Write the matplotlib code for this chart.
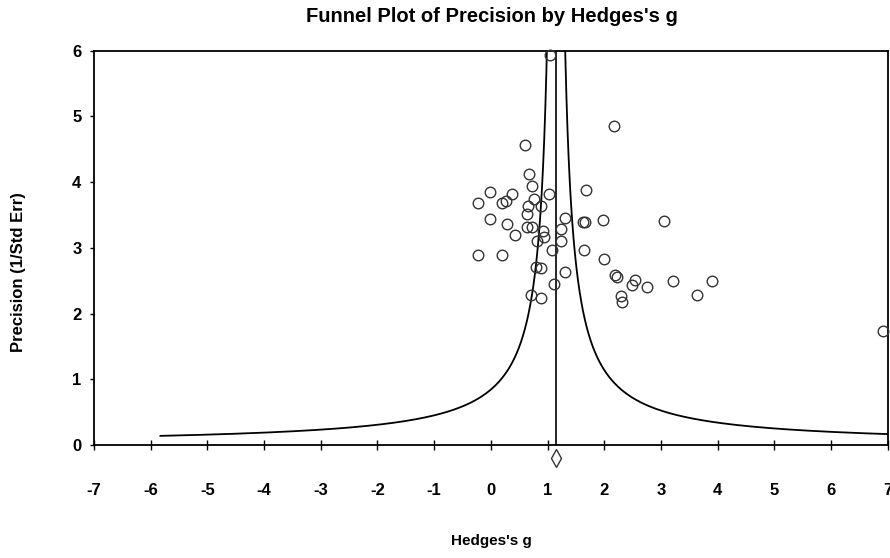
import numpy as np
import matplotlib
matplotlib.use("Agg")
import matplotlib.pyplot as plt

# Study effect sizes (Hedges's g) and precision (1/SE)
hedges_g = [1.05, 2.17, 0.60, 0.68, 0.72, -0.01, 0.37, 1.03, 1.68, -0.22,
            0.19, 0.27, 0.76, 0.66, 0.88, 0.63, -0.01, 0.28, 0.43, 1.31,
            1.63, 1.66, 1.97, 3.06, 0.64, 0.73, 0.92, 0.93, 0.82, 1.24,
            1.23, 1.07, 1.64, 2.00, -0.22, 0.19, 0.79, 0.88, 1.31, 1.12,
            0.71, 0.89, 2.19, 2.22, 2.49, 2.55, 2.75, 3.21, 3.90, 3.63,
            2.29, 2.32, 6.91]
precision = [5.93, 4.85, 4.57, 4.12, 3.94, 3.85, 3.82, 3.82, 3.88, 3.68,
             3.68, 3.71, 3.74, 3.63, 3.64, 3.51, 3.44, 3.37, 3.20, 3.45,
             3.39, 3.39, 3.42, 3.41, 3.31, 3.31, 3.25, 3.17, 3.11, 3.29,
             3.10, 2.96, 2.96, 2.83, 2.89, 2.89, 2.71, 2.70, 2.63, 2.45,
             2.28, 2.24, 2.59, 2.55, 2.43, 2.51, 2.41, 2.50, 2.50, 2.28,
             2.26, 2.17, 1.74]
combined_effect = 1.15
funnel_k = 0.97
precision_min = 0.139
x_ticks = list(range(-7, 8))
y_ticks = list(range(0, 7))

FONT = ["Liberation Sans Narrow", "Liberation Sans"]

fig = plt.figure(figsize=(8.9, 5.58), dpi=100)
ax = fig.add_axes([94 / 890, (558 - 445) / 558, (887.7 - 94) / 890, (445 - 50.7) / 558])

# funnel
p = np.linspace(precision_min, 8, 2000)
ax.plot(combined_effect - funnel_k / p, p, color="black", lw=1.3)
ax.plot(combined_effect + funnel_k / p, p, color="black", lw=1.3)
ax.plot([combined_effect, combined_effect], [0, 6], color="black", lw=1.2)

ax.plot(hedges_g, precision, linestyle="none", marker="o", markersize=7.6,
        markerfacecolor="none", markeredgecolor="#333333", markeredgewidth=1.0,
        clip_on=False, zorder=3)
ax.plot([combined_effect], [-0.2], marker="d", markersize=9,
        markerfacecolor="white", markeredgecolor="#333333", markeredgewidth=1.0,
        clip_on=False, zorder=3)

ax.set_xlim(-7, 7)
ax.set_ylim(0, 6)
ax.set_xticks(x_ticks)
ax.set_yticks(y_ticks)
ax.set_xticklabels([str(t) for t in x_ticks], fontsize=12, fontweight="bold", family=FONT)
ax.set_yticklabels([str(t) for t in y_ticks], fontsize=12, fontweight="bold", family=FONT)
ax.tick_params(axis="x", direction="inout", length=7, width=1.0, pad=24)
ax.tick_params(axis="y", direction="out", length=3, width=1.0, pad=6)
for s in ax.spines.values():
    s.set_linewidth(1.3)

fig.text(491 / 890, 1 - 541 / 558, "Hedges's g", ha="center", va="center",
         fontsize=11, fontweight="bold", family=FONT)
fig.text(18.5 / 890, 1 - 272 / 558, "Precision (1/Std Err)", ha="center", va="center",
         rotation=90, fontsize=12, fontweight="bold", family=FONT)
fig.text(491.5 / 890, 1 - 17 / 558, "Funnel Plot of Precision by Hedges's g",
         ha="center", va="center", fontsize=14.5, fontweight="bold", family=FONT)

fig.savefig("out.png", dpi=100)
